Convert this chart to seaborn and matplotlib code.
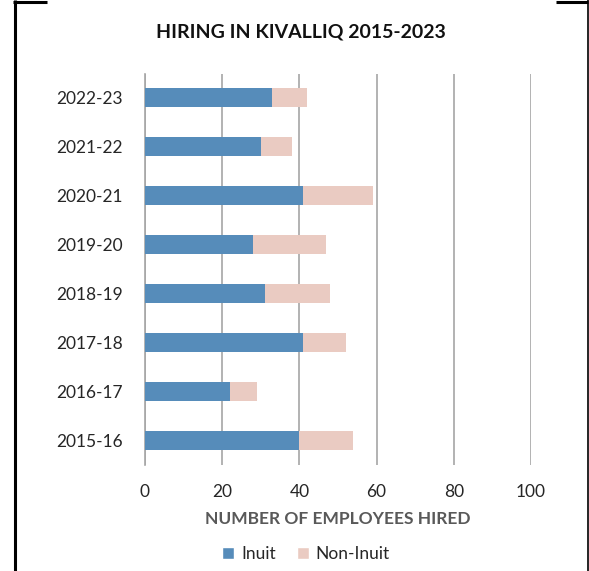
import matplotlib
matplotlib.use("Agg")
import matplotlib.pyplot as plt
from matplotlib.lines import Line2D
from matplotlib.patches import Patch
import seaborn as sns
import pandas as pd

# Fiscal years, listed top to bottom
years = ["2022-23", "2021-22", "2020-21", "2019-20",
         "2018-19", "2017-18", "2016-17", "2015-16"]
inuit = [33, 30, 41, 28, 31, 41, 22, 40]
non_inuit = [9, 8, 18, 19, 17, 11, 7, 14]
x_ticks = [0, 20, 40, 60, 80, 100]

INUIT_COLOR = "#568cba"
NON_INUIT_COLOR = "#eacbc2"

df = pd.DataFrame({"year": years, "Inuit": inuit, "Non-Inuit": non_inuit})
df["total"] = df["Inuit"] + df["Non-Inuit"]

sns.set_theme(style="white")
plt.rcParams["font.family"] = ["Lato", "DejaVu Sans"]

W, H = 589, 571
fig = plt.figure(figsize=(W / 100, H / 100), dpi=100)
ax = fig.add_axes([145 / W, 1 - 464.5 / H, 386 / W, (464.5 - 73.5) / H])

# Stacked bars: full total in the Non-Inuit colour, Inuit drawn over it
sns.barplot(data=df, y="year", x="total", order=years, color=NON_INUIT_COLOR,
            width=0.39, saturation=1, ax=ax, orient="h", zorder=2, linewidth=0)
sns.barplot(data=df, y="year", x="Inuit", order=years, color=INUIT_COLOR,
            width=0.39, saturation=1, ax=ax, orient="h", zorder=3, linewidth=0)

ax.set_xlim(0, 100)
ax.set_xticks(x_ticks)
ax.set_xticklabels([str(t) for t in x_ticks])
ax.xaxis.grid(True, color="#a6a6a6", linewidth=1.2, zorder=0)
ax.set_axisbelow(True)
for s in ["top", "right", "bottom"]:
    ax.spines[s].set_visible(False)
ax.spines["left"].set_color("#a6a6a6")
ax.spines["left"].set_linewidth(1.2)
ax.tick_params(axis="both", length=0, labelsize=12.5, labelcolor="#262626")
ax.tick_params(axis="x", pad=14)
ax.tick_params(axis="y", pad=16)
ax.set_ylabel("")
ax.set_xlabel("NUMBER OF EMPLOYEES HIRED", fontsize=12.5, fontweight="bold",
              color="#595959", labelpad=8)

fig.text(301 / W, 1 - 32 / H, "HIRING IN KIVALLIQ 2015-2023", ha="center",
         va="center", fontsize=14, fontweight="bold", color="#111111")

handles = [Patch(facecolor=INUIT_COLOR, label="Inuit"),
           Patch(facecolor=NON_INUIT_COLOR, label="Non-Inuit")]
fig.legend(handles=handles, loc="center", bbox_to_anchor=(306 / W, 1 - 554 / H),
           ncol=2, frameon=False, fontsize=12.5, handlelength=0.7, handleheight=0.7,
           handletextpad=0.4, columnspacing=1.2, labelcolor="#262626")

# Outer frame fragments
def px_line(x0, y0, x1, y1, lw):
    fig.add_artist(Line2D([x0 / W, x1 / W], [1 - y0 / H, 1 - y1 / H],
                          transform=fig.transFigure, color="black",
                          linewidth=lw, solid_capstyle="butt"))

px_line(14.5, 0, 14.5, H, 2.2)
px_line(13, 1.5, 47, 1.5, 2.2)
px_line(587.5, 0, 587.5, H, 1.2)
px_line(556, 1.5, 588, 1.5, 2.2)

fig.savefig("out.png", dpi=100)
